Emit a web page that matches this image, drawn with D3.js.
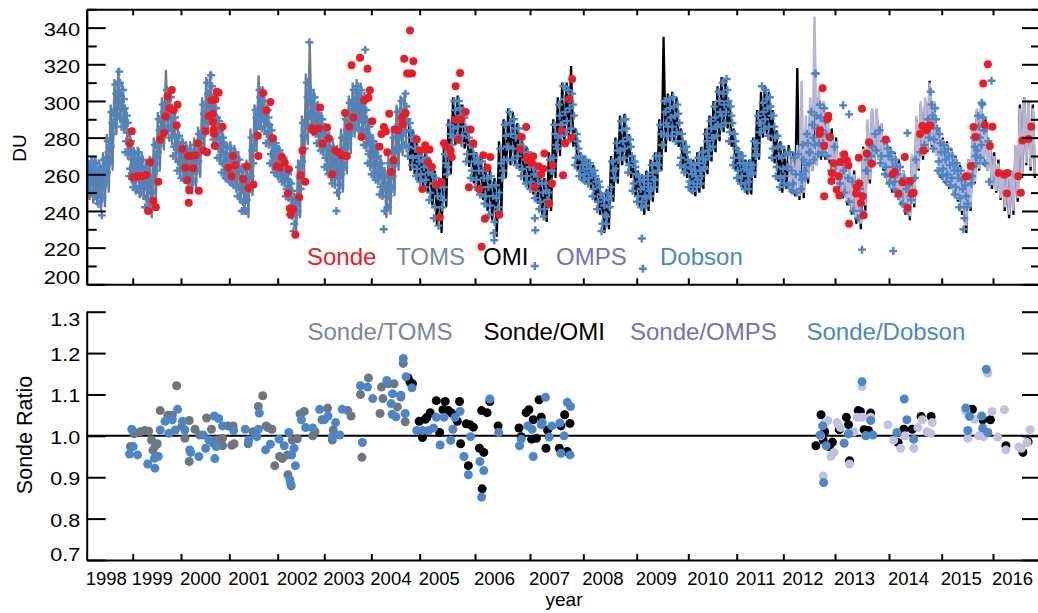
<!DOCTYPE html>
<html><head><meta charset="utf-8">
<script src="https://cdn.jsdelivr.net/npm/d3@7"></script>
<style>
body{margin:0;background:#fff;}
svg{display:block;font-family:"Liberation Sans",Arial,Helvetica,sans-serif;}
</style></head><body>
<svg id="c" width="1038" height="613"></svg>
<script>
// ---------------- DATA ----------------
const yearTicks = d3.range(1998, 2017);
const xEnd = 2016.93;

// monthly satellite ranges (daily spread), TOMS from Jan 1998
const tomsStart = 1998.0;
const tomsLo = [246,244,243,240,242,250,262,282,288,282,268,255,
 249,247,246,238,236,245,262,273,282,276,266,258,
 255,253,249,252,258,271,284,285,275,265,257,255,
 253,250,244,238,236,248,272,284,282,274,262,258,
 256,253,245,235,227,236,255,276,282,280,274,270,
 260,256,252,246,250,260,271,280,282,280,272,262,
 257,254,246,236,238,248,262,270,272];
const tomsHi = [268,270,270,268,272,282,298,312,318,310,296,282,
 275,275,272,268,270,280,294,302,317,306,295,285,
 280,278,278,280,286,302,313,316,305,292,284,278,
 278,276,272,266,268,285,298,314,308,298,288,280,
 276,272,266,258,250,268,292,315,332,306,300,294,
 288,283,278,276,285,295,303,310,312,310,305,290,
 282,278,270,264,270,285,298,303,305];

// OMI from Oct 2004
const omiStart = 2004.75;
const omiLo = [262,260,256,
 253,250,243,232,228,242,260,276,278,274,264,255,
 250,246,240,235,226,238,258,265,265,262,256,252,
 249,244,238,234,240,258,270,278,280,275,262,256,
 255,252,245,238,228,230,245,255,265,266,258,248,
 242,238,240,245,250,262,272,278,278,275,262,258,
 250,248,250,252,260,267,272,278,283,285,275,262,
 255,252,249,249,258,268,280,282,278,266,256,250,
 252,250,248,246,247,255,262,265,268,268,266,255,
 250,247,243,238,233,230,240,255,265,268,262,255,
 250,248,243,238,235,242,262,268,272,275,270,258,
 255,252,250,245,238,228,240,255,262,265,262,252,
 250,246,240,236,238,245,258,265,262,258];
const omiHi = [290,284,277,
 275,272,267,262,258,275,290,302,303,298,286,278,
 272,270,266,262,258,278,290,296,294,288,278,275,
 270,266,262,258,272,290,302,310,310,319,285,272,
 270,268,265,258,250,252,270,280,292,293,282,270,
 262,260,262,268,272,290,335,304,305,302,285,278,
 268,268,272,275,285,292,300,308,313,312,300,285,
 275,272,268,268,280,295,305,308,305,295,284,278,
 274,276,272,318,275,285,298,305,302,300,293,285,
 280,272,268,265,262,258,275,288,295,295,288,280,
 275,272,268,262,258,270,290,298,300,311,300,285,
 280,278,274,270,265,258,268,282,295,300,290,278,
 272,268,262,260,262,275,298,302,300,298];

// OMPS from Feb 2012
const ompsStart = 2012 + 1/12;
const ompsLo = [252,250,248,250,258,262,265,270,270,268,258,
 252,248,245,240,236,233,243,257,266,268,263,256,
 252,249,245,240,237,244,263,270,273,276,270,260,
 256,253,250,246,240,232,242,256,263,266,262,254,
 251,247,242,238,240,247,260,266,264,260];
const ompsHi = [272,270,276,311,292,302,346,306,300,292,282,
 278,272,268,264,260,258,274,290,296,296,288,279,
 274,271,266,262,258,271,292,300,302,310,300,284,
 279,277,273,269,264,258,268,284,296,300,289,276,
 270,266,262,259,262,276,296,302,300,296];

// Dobson (set A): three readings per month, from Jan 1998
const dobStart = 1998.0;
const dob1998 = [252,259,265,250,262,267,248,257,266,244,255,263,247,260,268,256,266,278,268,282,294,287,298,309,292,303,316,286,296,306,272,283,292,259,268,278];
const dob1999 = [253,262,271,252,264,272,250,258,268,242,252,263,241,250,266,250,262,276,266,278,290,277,290,298,286,296,306,280,290,302,270,280,291,262,272,281];
const dob2000 = [258,268,277,257,265,274,253,262,273,256,268,276,262,272,282,275,288,298,288,298,310,289,302,314,279,291,301,269,279,289,261,271,280,258,266,275];
const dob2001 = [256,265,274,254,263,272,248,258,268,240,250,262,240,252,264,252,266,280,276,286,295,288,298,306,285,295,304,277,287,295,266,276,284,261,270,277];
const dob2002 = [259,266,273,256,263,269,248,256,263,238,246,255,229,238,247,240,252,264,260,274,288,280,294,310,286,298,306,283,292,302,277,287,296,273,282,290];
const dob2003 = [264,274,284,260,268,279,255,264,274,240,258,270,254,266,280,264,277,290,275,288,299,284,295,306,286,298,308,284,296,306,276,290,300,266,276,286];
const dob2004 = [260,270,278,257,265,274,249,258,266,230,248,260,242,254,266,252,266,280,266,280,294,274,288,300,276,290,304,270,280,288,265,274,281,259,267,274];
const dob2005 = [256,264,272,253,261,269,246,255,264,236,248,258,232,242,254,246,260,271,264,276,287,280,290,300,281,292,300,277,286,295,267,276,283,258,267,275];
const dob2006 = [253,262,269,249,258,267,244,253,263,238,248,259,228,240,254,242,258,274,262,275,287,268,282,294,268,280,290,265,276,285,259,268,275,255,264,272];
const dob2007 = [252,260,267,247,255,263,241,250,259,237,246,255,244,256,268,262,276,287,274,287,298,281,294,308,283,296,306,279,292,304,265,274,282,259,265,270];
const dob2008 = [257,263,268,255,261,266,248,256,262,241,249,256,229,238,247,233,242,250,248,258,267,258,268,277,268,278,289,269,280,290,261,270,279,251,260,267];
const dob2009 = [245,252,259,242,248,257,243,251,259,248,257,265,253,262,270,265,276,287,276,288,300,281,291,301,281,292,302,278,288,298,265,274,282,261,268,275];
const dob2010 = [253,260,266,251,259,265,253,262,269,255,264,272,263,273,282,270,280,289,275,286,297,281,294,305,286,298,310,288,300,312,278,288,297,265,274,282];
const dob2011 = [258,266,272,255,263,270,252,259,265,252,260,266,261,270,278,271,283,292,283,294,308,285,296,306,281,292,302,269,280,292,259,270,281,253,263,275];
const dob2012 = [255,264,271,254,262,272,251,260,269,250,260,271,252,262,276,258,272,282,266,280,294,268,285,315,271,284,298,272,282,296,270,280,290,262,275,null];
const dob2013 = [265,null,null,255,262,268,250,258,265,245,256,null,240,250,null,236,240,252,248,262,null,262,276,null,270,282,null,273,284,null,266,278,null,260,270,278];
const dob2014 = [255,264,272,252,260,268,248,256,264,244,252,258,240,248,254,246,258,null,268,null,null,272,286,null,276,290,null,280,292,305,274,285,296,262,272,282];
const dob2015 = [259,268,276,256,265,274,254,262,270,249,258,266,242,252,262,230,242,254,244,255,null,259,270,280,266,280,292,269,284,298,266,278,285,256,null,null];
// Dobson (set B): two more readings per month, from Jan 1998
const dobB1998 = [255,262,256,264,252,261,249,259,253,264,261,272,275,288,292,304,297,310,290,301,278,288,263,273];
const dobB1999 = [257,267,258,268,254,263,247,257,245,258,256,269,272,284,283,294,291,301,285,296,275,286,267,276];
const dobB2000 = [263,272,261,270,258,267,262,272,267,277,281,293,293,304,295,308,285,296,274,284,266,276,262,270];
const dobB2001 = [260,270,258,268,253,263,245,256,246,258,259,273,281,291,293,302,290,300,282,291,271,280,265,274];
const dobB2002 = [262,270,259,266,252,260,242,251,233,243,246,258,267,281,287,302,292,302,287,297,282,292,277,286];
const dobB2003 = [269,279,264,274,259,269,250,264,260,273,270,284,281,294,289,300,292,303,290,301,283,295,271,281];
const dobB2004 = [265,274,261,270,253,262,240,254,248,260,259,273,273,287,281,294,283,297,275,284,269,278,263,270];
const dobB2005 = [260,268,257,265,250,260,242,253,237,248,253,266,270,282,285,295,286,296,281,291,271,280,262,271];
const dobB2006 = [257,266,253,262,248,258,243,254,234,247,250,266,268,281,275,288,274,285,270,281,263,272,259,268];
const dobB2007 = [256,264,251,259,245,255,241,251,250,262,269,282,280,292,287,301,289,301,285,298,269,278,262,268];
const dobB2008 = [260,266,258,263,252,259,245,253,233,243,237,246,253,262,263,273,273,284,274,285,265,275,255,264];
const dobB2009 = [248,256,245,253,247,255,252,261,257,266,270,282,282,294,286,296,286,297,283,293,269,278,264,272];
const dobB2010 = [256,263,255,262,257,266,259,268,268,278,275,285,280,291,287,300,292,304,294,306,283,292,269,278];
const dobB2011 = [262,269,259,266,255,262,256,263,265,274,277,288,288,299,290,301,286,297,274,286,264,275,258,269];
const dobB2012 = [259,null,null,null,255,null,null,null,257,268,265,277,272,287,276,292,277,291,277,289,null,null,null,null];
const dobB2013 = [null,null,null,null,null,null,null,null,null,null,null,null,null,null,268,null,275,null,null,null,270,null,264,274];
const dobB2014 = [259,268,256,264,null,null,null,null,null,null,null,null,null,null,null,null,null,null,285,298,279,290,267,277];
const dobB2015 = [263,272,260,270,258,266,253,262,247,257,236,248,null,null,264,275,273,286,276,291,null,null,null,null];
const dobExtra = [[1998.33,237.6],[2002.68,332],[2003.87,328],[2006.35,224],[2007.09,236],[2007.1,229.5],[2007.09,210],
 [2009.1,225],[2009.12,208.5],[2012.62,315],[2013.15,297.6],[2013.26,292.7],[2014.35,282.5],[2013.5,218.9],[2014.08,218.2],
 [2015.97,311],[2015.78,299]];

// ozonesonde total column [year, DU]
const sonde = [[1998.94,277],[1998.98,283.5],[1999.01,258.5],[1999.1,259],[1999.19,259],[1999.28,259.6],[1999.36,266.7],[1999.32,240],[1999.43,245.5],[1999.48,242],[1999.53,256],[1999.57,279],[1999.65,282.5],[1999.68,291.6],[1999.72,302.5],[1999.76,296],[1999.81,306],[1999.85,295],[1999.91,286.7],[1999.93,298],
[2000.03,274],[2000.09,263.6],[2000.13,256.7],[2000.15,270],[2000.16,244.5],[2000.17,251.3],[2000.2,270],[2000.25,263.3],[2000.3,270.4],[2000.35,277],[2000.37,251],[2000.46,273],[2000.51,283.5],[2000.54,272],[2000.57,291.8],[2000.63,300.4],[2000.66,293],[2000.66,288.5],[2000.68,284.4],[2000.68,282],[2000.7,275.6],[2000.71,300.7],[2000.74,305],[2000.78,304.5],[2000.86,286],
[2000.98,263.6],[2001.05,259],[2001.08,270],[2001.12,265],[2001.29,257.5],[2001.36,264.4],[2001.4,252.5],[2001.5,254.4],[2001.59,281],[2001.6,270],[2001.7,304.4],[2001.77,295],[2001.85,299.5],[2001.9,279.6],[2001.98,264.4],
[2002.04,263.6],[2002.09,269.5],[2002.15,266.5],[2002.22,249.5],[2002.24,262.7],[2002.26,241.3],[2002.28,238],[2002.33,241],[2002.38,227],[2002.46,247.5],[2002.49,259.5],[2002.53,273],[2002.59,256],[2002.74,285],[2002.78,283.5],[2002.88,285],[2002.91,296.4],[2002.96,276.7],
[2003.06,285.5],[2003.1,279.5],[2003.17,260],[2003.23,273],[2003.3,272],[2003.37,270.4],[2003.44,293.5],[2003.48,270],[2003.53,286],[2003.58,319.5],[2003.62,291],[2003.76,323.6],[2003.79,280.4],[2003.85,300.4],[2003.92,317.6],[2003.94,301.8],[2003.97,305.8],
[2004.02,289],[2004.17,275],[2004.21,282],[2004.26,285.8],[2004.3,283.3],[2004.33,272],[2004.37,293],[2004.41,261.3],[2004.46,267.6],[2004.48,284.4],[2004.55,284],[2004.63,291],[2004.65,287.3],[2004.68,323],[2004.71,293.5],[2004.74,315],[2004.78,315],[2004.8,338.5],[2004.84,315],[2004.87,321.6],[2004.94,279],
[2005.0,273],[2005.05,252],[2005.1,275.8],[2005.13,273.5],[2005.15,266.7],[2005.18,273.5],[2005.22,264],[2005.3,254.4],[2005.36,236.4],[2005.4,255.8],[2005.44,277],[2005.48,275],[2005.56,273],[2005.58,269.5],[2005.64,289.8],[2005.65,308],[2005.7,279],[2005.73,315.3],[2005.75,289.8],[2005.83,294],[2005.89,253],[2005.92,284.4],[2005.97,277],
[2006.08,252],[2006.12,220.5],[2006.15,270.4],[2006.18,235.8],[2006.23,263.6],[2006.28,269.5],[2006.44,238],[2006.82,273.6],[2006.85,280.4],[2006.93,285.8],[2006.94,269.5],[2006.97,267.6],
[2007.03,266.2],[2007.06,269.8],[2007.09,253],[2007.16,264.4],[2007.21,260],[2007.25,263],[2007.27,271.3],[2007.36,244],[2007.41,254.9],[2007.43,265],[2007.59,284],[2007.62,259.5],[2007.66,277],[2007.74,301],[2007.78,280],[2007.79,312],
[2012.7,282],[2012.71,284],[2012.76,307],[2012.79,275.5],[2012.79,248],[2012.85,290],[2012.87,292],[2012.9,280.4],[2012.93,256.4],[2012.94,260.7],[2012.97,266],
[2013.03,251.6],[2013.07,259],[2013.08,248.5],[2013.1,266.7],[2013.17,271],[2013.22,267.6],[2013.25,265],[2013.26,233],[2013.39,249.5],[2013.4,253],[2013.44,269],[2013.45,255],[2013.48,244.4],[2013.5,295.8],[2013.51,248],[2013.53,237.6],[2013.59,271.3],[2013.63,277.5],[2013.68,265.8],[2013.94,279],
[2014.07,260],[2014.11,261.3],[2014.18,249.5],[2014.26,255.6],[2014.3,269.5],[2014.35,241.8],[2014.4,256.4],[2014.43,249.5],[2014.47,250],[2014.59,282],[2014.63,286.4],[2014.66,273],[2014.71,284],[2014.75,286.4],[2014.79,286.7],
[2015.47,259],[2015.5,259],[2015.57,264.5],[2015.62,285.8],[2015.66,280.4],[2015.81,309.5],[2015.84,287],[2015.9,320],[2015.94,275.5],[2015.99,286],
[2016.11,260.7],[2016.22,259.8],[2016.27,249.5],[2016.28,260.7],[2016.49,259],[2016.54,250],[2016.57,278.5],[2016.69,279.3],[2016.74,286]];

// Sonde / instrument ratios [year, ratio]
const ratioToms = [[1998.95,0.974],[1999.03,1.005],[1999.15,1.01],[1999.25,1.013],[1999.33,1.011],[1999.39,0.99],[1999.47,0.976],[1999.51,0.981],[1999.42,0.965],[1999.57,1.061],[1999.73,1.05],[1999.82,1.05],[1999.91,1.121],[2000.02,1.023],[2000.08,0.994],[2000.17,1.037],[2000.17,0.938],[2000.29,1.016],[2000.39,1.002],[2000.53,1.043],[2000.63,1.016],[2000.67,0.982],[2000.74,0.99],[2000.86,0.994],[2000.86,0.976],[2000.97,1.024],[2001.08,1.024],[2001.05,0.977],[2001.1,0.981],[2001.39,0.981],[2001.49,1.01],[2001.6,1.071],[2001.69,1.097],[2001.76,1.024],[2001.8,1.02],[2001.88,1.016],[2001.94,0.928],[2002.04,0.95],[2002.1,0.945],[2002.21,0.954],[2002.31,0.99],[2002.42,0.993],[2002.29,0.879],[2002.22,0.906],[2002.48,1.053],[2002.57,1.059],[2002.75,1.0],[2002.8,1.01],[2002.95,1.039],[2003.07,1.067],[2003.19,1.014],[2003.17,0.99],[2003.5,1.061],[2003.57,1.048],[2003.77,1.1],[2003.8,0.948],[2003.94,1.14],[2004.18,1.054],[2004.21,1.118],[2004.24,1.09],[2004.35,1.126],[2004.47,1.126],[2004.54,1.07],[2004.61,1.094],[2004.66,1.175],[2004.7,1.034]];
const ratioOmi = [[2004.76,1.14],[2004.8,1.13],[2004.85,1.126],[2004.99,1.035],[2005.05,0.996],[2005.1,1.04],[2005.13,1.045],[2005.19,1.056],[2005.3,1.085],[2005.36,1.008],[2005.42,1.063],[2005.46,1.083],[2005.52,1.061],[2005.58,1.055],[2005.68,1.035],[2005.72,1.083],[2005.74,0.981],[2005.84,1.029],[2005.88,0.928],[2005.91,1.027],[2005.97,1.021],[2006.08,0.97],[2006.13,0.872],[2006.12,1.061],[2006.16,0.96],[2006.22,1.056],[2006.27,1.083],[2006.42,1.024],[2006.8,1.019],[2006.84,0.998],[2006.93,1.056],[2006.98,1.063],[2007.03,0.992],[2007.06,1.039],[2007.12,0.994],[2007.17,1.087],[2007.21,1.045],[2007.3,0.97],[2007.33,1.014],[2007.55,0.97],[2007.58,1.024],[2007.65,1.051],[2007.7,0.962],[2007.75,1.03],
[2012.63,0.976],[2012.73,1.051],[2012.77,0.99],[2012.8,1.01],[2012.89,0.974],[2012.95,0.985],[2013.08,1.015],[2013.21,1.045],[2013.25,1.027],[2013.27,0.94],[2013.43,1.061],[2013.47,1.059],[2013.54,1.015],[2013.62,1.013],[2013.66,1.055],[2014.17,0.984],[2014.28,1.016],[2014.44,1.016],[2014.61,1.047],[2014.8,1.047],[2015.54,1.063],[2015.6,1.064],[2015.8,1.039],[2015.95,1.039],[2016.25,0.976],[2016.58,0.96],[2016.68,0.986]];
const ratioOmps = [[2012.72,1.0],[2012.77,0.903],[2012.8,1.03],[2012.86,1.037],[2012.92,0.95],[2012.98,0.96],[2013.04,1.032],[2013.1,1.02],[2013.27,0.932],[2013.35,1.01],[2013.41,1.045],[2013.5,1.045],[2013.5,1.119],[2013.57,1.0],[2013.66,1.045],[2013.98,1.027],[2014.09,0.989],[2014.22,0.97],[2014.3,1.0],[2014.47,0.97],[2014.55,1.02],[2014.63,1.039],[2014.72,1.01],[2014.79,1.006],[2014.82,1.032],[2015.47,1.06],[2015.51,0.994],[2015.64,1.04],[2015.72,1.0],[2015.82,0.998],[2015.9,1.151],[2015.98,1.059],[2016.09,0.997],[2016.22,1.063],[2016.25,0.966],[2016.5,0.973],[2016.55,0.97],[2016.66,0.984],[2016.72,1.015]];
const ratioDob = [[1998.93,0.956],[1998.98,1.016],[1999.01,0.974],[1999.1,0.954],[1999.31,0.932],[1999.45,0.946],[1999.46,0.922],[1999.53,0.95],[1999.57,1.014],[1999.67,1.035],[1999.75,1.006],[1999.82,1.039],[1999.88,1.014],[1999.93,1.064],[2000.03,1.035],[2000.08,1.014],[2000.18,0.966],[2000.2,0.96],[2000.37,0.95],[2000.46,1.002],[2000.51,0.97],[2000.58,0.99],[2000.69,1.048],[2000.7,0.945],[2000.73,0.974],[2000.78,1.042],[2000.86,1.024],[2001.09,1.013],[2001.33,1.016],[2001.4,0.99],[2001.57,0.998],[2001.6,1.016],[2001.62,1.055],[2001.75,0.966],[2001.85,0.98],[2002.03,0.992],[2002.14,0.976],[2002.24,1.008],[2002.3,0.954],[2002.35,0.97],[2002.38,0.928],[2002.26,0.894],[2002.28,0.884],[2002.51,1.039],[2002.6,1.02],[2002.75,1.019],[2002.9,1.064],[2003.0,1.039],[2003.08,1.048],[2003.17,0.998],[2003.24,1.032],[2003.33,1.002],[2003.38,1.064],[2003.77,1.121],[2003.81,0.984],[2003.92,1.118],[2004.03,1.09],[2004.32,1.134],[2004.41,1.078],[2004.43,1.052],[2004.44,1.102],[2004.51,1.046],[2004.61,1.098],[2004.66,1.187],[2004.7,1.054],[2004.72,1.143],[2004.84,1.116],
[2004.94,1.013],[2005.05,1.013],[2005.16,1.013],[2005.25,1.019],[2005.3,1.045],[2005.37,0.978],[2005.44,1.045],[2005.56,0.989],[2005.6,1.016],[2005.64,1.045],[2005.73,1.059],[2005.8,0.95],[2005.88,0.906],[2005.92,0.998],[2006.09,0.938],[2006.12,0.852],[2006.16,0.916],[2006.27,1.089],[2006.43,1.008],[2006.81,0.976],[2006.84,0.992],[2006.96,1.024],[2007.04,1.016],[2007.06,0.95],[2007.21,1.027],[2007.23,1.032],[2007.29,1.093],[2007.36,0.997],[2007.41,1.024],[2007.56,1.031],[2007.58,0.958],[2007.64,1.0],[2007.7,1.081],[2007.75,0.954],[2007.76,1.071],
[2012.71,1.002],[2012.76,1.024],[2012.78,0.887],[2012.83,0.976],[2013.17,0.982],[2013.25,1.005],[2013.5,1.131],[2013.57,1.0],[2013.66,1.037],[2013.7,1.002],[2014.15,1.008],[2014.29,1.089],[2014.34,1.039],[2014.47,0.992],[2015.47,1.067],[2015.51,1.013],[2015.54,1.047],[2015.78,1.048],[2015.8,1.019],[2015.87,1.161],[2015.9,1.008]];

const duTicks = d3.range(200, 341, 20);
const duMinor = d3.range(210, 351, 20);
const ratioTicks = [0.7,0.8,0.9,1.0,1.1,1.2,1.3];
const topLegend = ["Sonde","TOMS","OMI","OMPS","Dobson"];
const botLegend = ["Sonde/TOMS","Sonde/OMI","Sonde/OMPS","Sonde/Dobson"];

// ---------------- LAYOUT / STYLE ----------------
const L = 86.7, R = 1041;
const topT = 9.3, topB = 284.3, botT = 311.7, botB = 560;
// pixel position of each January-1 tick (axis calibration of the original)
const yearTickPx = [86.7,132.7,181,229.3,277.7,324.3,371.3,419.7,475,530,583.3,636.7,688.3,736.7,783.3,835,889,941.7,993,R];
const cSonde = "#ec1c24", cToms = "#6d7b8b", cTomsTxt = "#7a8797", cOmi = "#000",
      cOmps = "#b9b5d7", cOmpsTxt = "#7b6eb4", cOmpsDot = "#c3bfdf", cDob = "#4a86c8", cTomsDot = "#6e7781";
const topLegendX = [307,396,483,556,660];
const topLegendC = [cSonde,cTomsTxt,"#000",cOmpsTxt,cDob];
const botLegendX = [307.5,483.5,630,806.5];
const botLegendC = [cTomsTxt,"#000",cOmpsTxt,cDob];
const FONT = '"Liberation Sans",Arial,Helvetica,sans-serif';

const svg = d3.select("#c");
const x = d3.scaleLinear().domain([...yearTicks, xEnd]).range(yearTickPx);
const yT = d3.scaleLinear().domain([200,350]).range([topB, topT]);
const yB = d3.scaleLinear().domain([0.7,1.3]).range([botB, botT]);

svg.append("clipPath").attr("id","clipT").append("rect")
  .attr("x",L).attr("y",topT).attr("width",R-L).attr("height",topB-topT);

// ---------------- TOP PANEL ----------------
const gT = svg.append("g").attr("clip-path","url(#clipT)");
function zig(start, lo, hi){
  const pts = [];
  lo.forEach((v,i)=>{ const t = start + i/12; pts.push([t+0.25/12, hi[i]]); pts.push([t+0.75/12, v]); });
  return pts;
}
const lineT = d3.line().x(d=>x(d[0])).y(d=>yT(d[1]));
gT.append("path").datum(zig(tomsStart,tomsLo,tomsHi)).attr("d",lineT)
  .attr("fill","none").attr("stroke",cToms).attr("stroke-width",2.3);
gT.append("path").datum(zig(omiStart,omiLo,omiHi)).attr("d",lineT)
  .attr("fill","none").attr("stroke",cOmi).attr("stroke-width",2.3);
gT.append("path").datum(zig(ompsStart,ompsLo,ompsHi)).attr("d",lineT)
  .attr("fill","none").attr("stroke",cOmps).attr("stroke-width",2.5);

const dobA = [].concat(dob1998,dob1999,dob2000,dob2001,dob2002,dob2003,dob2004,dob2005,dob2006,dob2007,dob2008,dob2009,dob2010,dob2011,dob2012,dob2013,dob2014,dob2015);
const dobB = [].concat(dobB1998,dobB1999,dobB2000,dobB2001,dobB2002,dobB2003,dobB2004,dobB2005,dobB2006,dobB2007,dobB2008,dobB2009,dobB2010,dobB2011,dobB2012,dobB2013,dobB2014,dobB2015);
const subA = [0.08,0.92,0.5], subB = [0.3,0.7];
const dobPts = [];
dobA.forEach((v,i)=>{ if(v==null) return; const m = Math.floor(i/3); dobPts.push([dobStart + (m + subA[i%3])/12, v]); });
dobB.forEach((v,i)=>{ if(v==null) return; const m = Math.floor(i/2); dobPts.push([dobStart + (m + subB[i%2])/12, v]); });
dobExtra.forEach(d=>dobPts.push(d));
gT.append("g").selectAll("path").data(dobPts).join("path")
  .attr("transform",d=>`translate(${x(d[0])},${yT(d[1])})`)
  .attr("d","M-4,0H4M0,-4V4").attr("stroke",cDob).attr("stroke-width",2.4).attr("fill","none");
gT.append("g").selectAll("circle").data(sonde).join("circle")
  .attr("cx",d=>x(d[0])).attr("cy",d=>yT(d[1])).attr("r",4).attr("fill",cSonde);

// ---------------- BOTTOM PANEL ----------------
const gB = svg.append("g");
gB.append("line").attr("x1",L).attr("x2",R).attr("y1",yB(1)).attr("y2",yB(1)).attr("stroke","#000").attr("stroke-width",2);
[[ratioToms,cTomsDot],[ratioOmi,"#000"],[ratioOmps,cOmpsDot],[ratioDob,cDob]].forEach(([data,col])=>{
  gB.append("g").selectAll("circle").data(data).join("circle")
    .attr("cx",d=>x(d[0])).attr("cy",d=>yB(d[1])).attr("r",4.5).attr("fill",col);
});

// ---------------- AXES ----------------
function style(g){
  g.attr("font-family",FONT).attr("font-size",18.5);
  g.selectAll("path,line").attr("stroke","#000").attr("stroke-width",2);
  g.selectAll("text").attr("fill","#000");
  return g;
}
const yrInner = yearTicks.slice(1);
// top panel
style(svg.append("g").attr("transform",`translate(0,${topT})`).call(d3.axisTop(x).tickValues(yrInner).tickSize(-6).tickSizeOuter(0).tickFormat("")));
style(svg.append("g").attr("transform",`translate(0,${topB})`).call(d3.axisBottom(x).tickValues(yrInner).tickSize(-6).tickSizeOuter(0).tickFormat("")));
const lT = style(svg.append("g").attr("transform",`translate(${L},0)`).call(d3.axisLeft(yT).tickValues(duTicks).tickSize(-19).tickSizeOuter(0).tickPadding(6.5).tickFormat(d3.format("d"))));
lT.selectAll("text").attr("dy",null).attr("y",d=>d===200?-1:8.3).attr("textLength",36.5).attr("lengthAdjust","spacingAndGlyphs");
style(svg.append("g").attr("transform",`translate(${L},0)`).call(d3.axisLeft(yT).tickValues(duMinor).tickSize(-10).tickSizeOuter(0).tickFormat("")));
style(svg.append("g").attr("transform",`translate(${R},0)`).call(d3.axisRight(yT).tickValues(duTicks).tickSize(-19).tickSizeOuter(0).tickFormat("")));
style(svg.append("g").attr("transform",`translate(${R},0)`).call(d3.axisRight(yT).tickValues(duMinor).tickSize(-10).tickSizeOuter(0).tickFormat("")));
// bottom panel
const lB = style(svg.append("g").attr("transform",`translate(${L},0)`).call(d3.axisLeft(yB).tickValues(ratioTicks).tickSize(-19).tickSizeOuter(0).tickPadding(6.5).tickFormat(d3.format(".1f"))));
lB.selectAll("text").attr("dy",null).attr("y",d=>d>1.25?13.3:(d<0.75?0:7.5)).attr("textLength",30).attr("lengthAdjust","spacingAndGlyphs");
style(svg.append("g").attr("transform",`translate(${R},0)`).call(d3.axisRight(yB).tickValues(ratioTicks).tickSize(-19).tickSizeOuter(0).tickFormat("")));
const xB = style(svg.append("g").attr("transform",`translate(0,${botB})`).call(d3.axisBottom(x).tickValues(yearTicks).tickSize(-6).tickSizeOuter(0).tickFormat(d3.format("d"))));
xB.selectAll("text").attr("text-anchor","start").attr("x",-1.5).attr("y",25).attr("dy",null);
xB.selectAll(".tick").filter(d=>d===1998).select("line").remove();

// ---------------- TITLES & LEGENDS ----------------
svg.append("text").attr("transform","translate(26,148) rotate(-90)").attr("text-anchor","middle")
  .attr("font-size",19).attr("font-family",FONT).text("DU");
svg.append("text").attr("transform","translate(32,435) rotate(-90)").attr("text-anchor","middle")
  .attr("font-size",21.5).attr("font-family",FONT).text("Sonde Ratio");
svg.append("text").attr("x",564).attr("y",605.5).attr("text-anchor","middle")
  .attr("font-size",19).attr("font-family",FONT).text("year");
svg.append("g").selectAll("text").data(topLegend).join("text")
  .attr("x",(d,i)=>topLegendX[i]).attr("y",265).attr("fill",(d,i)=>topLegendC[i])
  .attr("font-size",24).attr("font-family",FONT).text(d=>d);
svg.append("g").selectAll("text").data(botLegend).join("text")
  .attr("x",(d,i)=>botLegendX[i]).attr("y",339.5).attr("fill",(d,i)=>botLegendC[i])
  .attr("font-size",24).attr("font-family",FONT).text(d=>d);
</script>
</body></html>
